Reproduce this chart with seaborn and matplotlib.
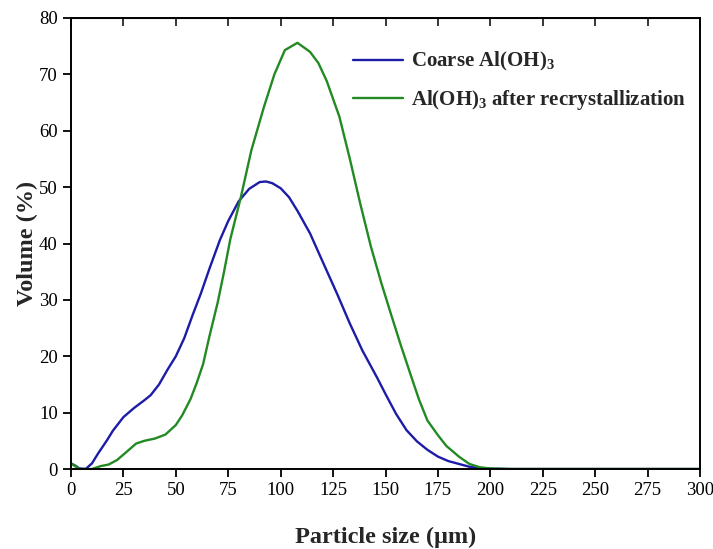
import numpy as np
import pandas as pd
import matplotlib
matplotlib.use("Agg")
import matplotlib.pyplot as plt
import seaborn as sns

# ---- data ----
coarse_x = [0, 2, 4, 7, 10, 13, 17, 20, 25, 30, 35, 38, 42, 46, 50, 54, 58, 62, 66, 71,
            75, 80, 85, 90, 93, 96, 100, 104, 108, 114, 120, 127, 133, 139, 146, 150,
            155, 160, 165, 170, 175, 180, 185, 190, 195, 200, 210, 250, 300]
coarse_y = [1.0, 0.6, 0.1, 0.0, 1.0, 2.8, 5.0, 6.8, 9.2, 10.8, 12.2, 13.1, 15.0, 17.6,
            20.0, 23.2, 27.3, 31.2, 35.5, 40.6, 44.0, 47.5, 49.7, 50.9, 51.0, 50.7, 49.8,
            48.2, 45.8, 41.8, 36.8, 31.0, 25.8, 21.0, 16.2, 13.3, 9.8, 6.9, 4.9, 3.4, 2.2,
            1.4, 0.9, 0.4, 0.15, 0.05, 0.0, 0.0, 0.0]

recryst_x = [0, 2, 4, 10, 14, 18, 22, 27, 31, 35, 40, 45, 50, 53, 57, 60, 63, 66, 70, 73,
             76, 81, 86, 92, 97, 102, 108, 114, 118, 122, 128, 133, 138, 143, 148, 152,
             157, 162, 166, 170, 175, 179, 185, 190, 195, 200, 210, 250, 300]
recryst_y = [1.0, 0.5, 0.0, 0.0, 0.5, 0.8, 1.6, 3.2, 4.5, 5.0, 5.4, 6.1, 7.8, 9.5, 12.4,
             15.3, 18.6, 23.5, 29.6, 35.0, 40.8, 48.2, 56.5, 64.2, 70.0, 74.3, 75.6, 74.0,
             72.0, 68.8, 62.5, 55.0, 47.0, 39.5, 33.0, 28.2, 22.3, 16.7, 12.3, 8.6, 6.0,
             4.1, 2.2, 0.9, 0.3, 0.1, 0.0, 0.0, 0.0]

series_names = ["Coarse Al(OH)$_3$", "Al(OH)$_3$ after recrystallization"]
x_ticks = list(range(0, 301, 25))
y_ticks = list(range(0, 81, 10))

df = pd.concat([
    pd.DataFrame({"size": coarse_x, "volume": coarse_y, "series": series_names[0]}),
    pd.DataFrame({"size": recryst_x, "volume": recryst_y, "series": series_names[1]}),
], ignore_index=True)

sns.set_style("ticks")
plt.rcParams["font.family"] = ["Liberation Serif", "DejaVu Serif"]
plt.rcParams["mathtext.default"] = "regular"

fig = plt.figure(figsize=(7.13, 5.49), dpi=100)
ax = fig.add_axes([71 / 713, 80 / 549, 629 / 713, 451 / 549])

sns.lineplot(data=df, x="size", y="volume", hue="series", hue_order=series_names,
             palette=["#1c1ca8", "#238a23"], linewidth=1.7, ax=ax, sort=False,
             estimator=None)

ax.set_xlim(0, 300)
ax.set_ylim(0, 80)
ax.set_xticks(x_ticks)
ax.set_yticks(y_ticks)
ax.tick_params(axis="both", direction="out", length=6, width=1.3, labelsize=13.5,
               colors="black")
for s in ax.spines.values():
    s.set_visible(True)
    s.set_linewidth(1.4)
    s.set_color("black")

top = ax.secondary_xaxis("top")
top.set_xticks(x_ticks)
top.tick_params(direction="in", length=6, width=1.3, labeltop=False)

ax.set_xlabel("Particle size (μm)", fontsize=17.5, fontweight="bold", labelpad=20)
ax.set_ylabel("Volume (%)", fontsize=17.5, fontweight="bold", labelpad=1)

leg = ax.legend(loc="upper right", frameon=False, handlelength=2.4,
                prop={"size": 15, "weight": "bold"}, labelspacing=0.7,
                bbox_to_anchor=(1.008, 0.97), handletextpad=0.4)

fig.savefig("out.png", dpi=100)
